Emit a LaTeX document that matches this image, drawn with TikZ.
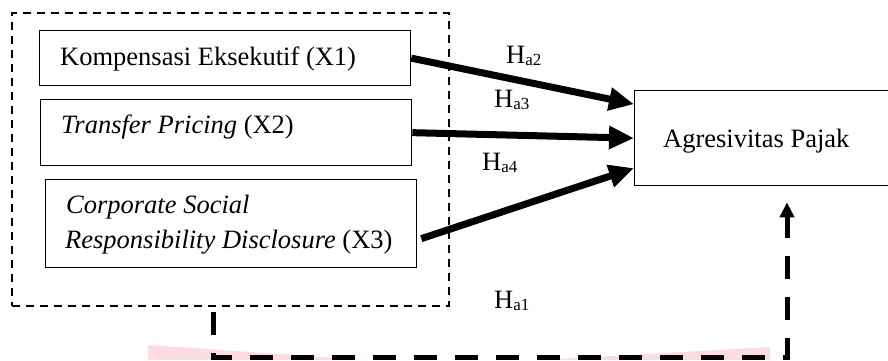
\documentclass[tikz,border=0pt]{standalone}
\usepackage{fontspec}
\setmainfont{Liberation Serif}
\usetikzlibrary{arrows.meta}
\definecolor{wm}{RGB}{252,220,225}
\newcommand{\hyp}[1]{H\raisebox{-2.5pt}{\fontsize{17}{17}\selectfont a#1}}
\begin{document}
\begin{tikzpicture}[x=1pt,y=-1pt,
  every node/.style={font=\fontsize{26.5}{32}\selectfont},
  box/.style={draw, line width=1.3pt, inner sep=0pt, anchor=north west},
  lbl/.style={anchor=base west, inner sep=0pt},
  grpbox/.style={draw, line width=2pt, dash pattern=on 8pt off 6pt, inner sep=0pt, anchor=north west},
  bigarrow/.style={line width=7pt, -{Triangle[length=25pt,width=22pt]}},
  feedback/.style={line width=5pt, dash pattern=on 23pt off 18pt, -{Triangle[length=15pt,width=14pt]}}]
\useasboundingbox (0,0) rectangle (888,360);
\clip (0,0) rectangle (888,360);
% faint watermark pieces
\fill[wm] (148,345) -- (367,360) -- (148,360) -- cycle;
\fill[wm] (540,360) -- (770,347) -- (770,360) -- cycle;
% boxes
\node[grpbox, minimum width=437pt, minimum height=293pt] (grp) at (11,12) {};
\node[box, minimum width=371pt, minimum height=55pt] (x1) at (39,30) {};
\node[box, minimum width=371pt, minimum height=66pt] (x2) at (40,99) {};
\node[box, minimum width=371pt, minimum height=88pt] (x3) at (45,179) {};
\node[box, minimum width=300pt, minimum height=95pt] (y) at (634,90) {};
% texts
\node[lbl] (t1) at (60,65) {Kompensasi Eksekutif (X1)};
\node[lbl] (t2) at (61,133) {\textit{Transfer Pricing} (X2)};
\node[lbl] (t3a) at (66,213) {\textit{Corporate Social}};
\node[lbl] (t3b) at (65,248) {\textit{Responsibility Disclosure} (X3)};
\node[lbl] (ty) at (663,147) {Agresivitas Pajak};
\node[lbl] (h2) at (506,63) {\hyp{2}};
\node[lbl] (h3) at (494,107) {\hyp{3}};
\node[lbl] (h4) at (482,170) {\hyp{4}};
\node[lbl] (h1) at (494,308) {\hyp{1}};
% arrows
\draw[bigarrow] (x1.east) -- ([yshift=34pt]y.west);
\draw[bigarrow] (x2.east) -- (y.west);
\draw[bigarrow] ([xshift=4pt,yshift=-15pt]x3.east) -- ([yshift=-30pt]y.west);
\coordinate (corner) at (787,357);
\draw[feedback] ([xshift=-17.5pt,yshift=-5pt]grp.south) |- (corner) -- ([yshift=-16pt]y.south -| corner);
\end{tikzpicture}
\end{document}
